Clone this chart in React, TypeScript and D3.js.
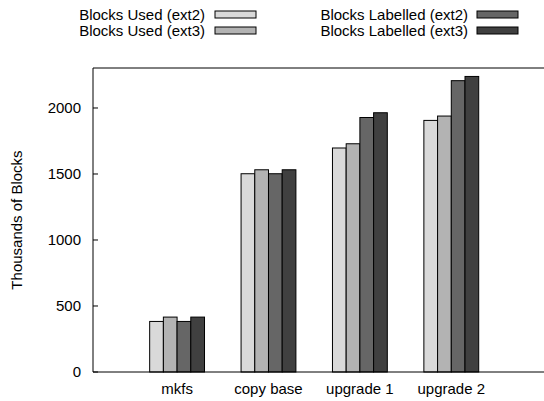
import React, { useRef, useEffect } from 'react';
import * as d3 from 'd3';

const categories = ['mkfs', 'copy base', 'upgrade 1', 'upgrade 2'];
const seriesNames = ['Blocks Used (ext2)', 'Blocks Used (ext3)', 'Blocks Labelled (ext2)', 'Blocks Labelled (ext3)'];
const usedExt2 = [383, 1502, 1697, 1906];
const usedExt3 = [416, 1532, 1729, 1939];
const labelledExt2 = [383, 1502, 1928, 2207];
const labelledExt3 = [416, 1532, 1964, 2239];
const yTicks = [0, 500, 1000, 1500, 2000];

const App = () => {
  const svgRef = useRef(null);

  useEffect(() => {
    const width = 544;
    const height = 401;
    const left = 93;
    const top = 68;
    const bottom = 372;
    const fills = ['#d9d9d9', '#b3b3b3', '#666666', '#404040'];
    const series = [usedExt2, usedExt3, labelledExt2, labelledExt3];
    const font = 'Liberation Sans, Arial, sans-serif';
    const fs = '15px';

    const svg = d3.select(svgRef.current)
      .attr('width', width)
      .attr('height', height)
      .style('display', 'block')
      .style('position', 'absolute')
      .style('left', '0px')
      .style('top', '0px');
    svg.selectAll('*').remove();

    // x: category index, gnuplot-like range
    const x = d3.scaleLinear().domain([-0.92, 4.05]).range([left, left + 4.97 * 91.4]);
    const y = d3.scaleLinear().domain([0, 2303]).range([bottom, top]);
    const groupW = 0.6;
    const barW = groupW / series.length;

    // bars
    series.forEach((vals, s) => {
      svg.append('g')
        .selectAll('rect')
        .data(vals)
        .enter()
        .append('rect')
        .attr('x', (d, i) => x(i - groupW / 2 + s * barW))
        .attr('width', x(barW) - x(0))
        .attr('y', d => y(d))
        .attr('height', d => y(0) - y(d))
        .attr('fill', fills[s])
        .attr('stroke', '#000')
        .attr('stroke-width', 1);
    });

    // frame
    svg.append('path')
      .attr('d', `M${width + 5},${top}H${left}V${bottom}H${width + 5}`)
      .attr('fill', 'none')
      .attr('stroke', '#000')
      .attr('stroke-width', 1);

    // y ticks
    const yg = svg.append('g');
    yg.selectAll('line')
      .data(yTicks)
      .enter()
      .append('line')
      .attr('x1', left)
      .attr('x2', left + 5)
      .attr('y1', d => y(d))
      .attr('y2', d => y(d))
      .attr('stroke', '#000');
    yg.selectAll('text')
      .data(yTicks)
      .enter()
      .append('text')
      .attr('x', left - 12)
      .attr('y', d => y(d) + 5)
      .attr('text-anchor', 'end')
      .style('font-family', font)
      .style('font-size', fs)
      .text(d => d);

    // x labels
    svg.append('g')
      .selectAll('text')
      .data(categories)
      .enter()
      .append('text')
      .attr('x', (d, i) => x(i))
      .attr('y', 394)
      .attr('text-anchor', 'middle')
      .style('font-family', font)
      .style('font-size', fs)
      .text(d => d);

    // y label
    svg.append('text')
      .attr('transform', `translate(22,220) rotate(-90)`)
      .attr('text-anchor', 'middle')
      .style('font-family', font)
      .style('font-size', fs)
      .text('Thousands of Blocks');

    // legend
    const legendPos = [
      { tx: 205, sx: 215, y: 14.5 },
      { tx: 205, sx: 215, y: 30.5 },
      { tx: 468, sx: 477, y: 14.5 },
      { tx: 468, sx: 477, y: 30.5 },
    ];
    seriesNames.forEach((name, s) => {
      const p = legendPos[s];
      svg.append('text')
        .attr('x', p.tx)
        .attr('y', p.y + 5)
        .attr('text-anchor', 'end')
        .style('font-family', font)
        .style('font-size', fs)
        .text(name);
      svg.append('rect')
        .attr('x', p.sx)
        .attr('y', p.y - 3.5)
        .attr('width', 41)
        .attr('height', 7)
        .attr('fill', fills[s])
        .attr('stroke', '#000');
    });
  }, []);

  return <svg ref={svgRef}></svg>;
};

export default App;
